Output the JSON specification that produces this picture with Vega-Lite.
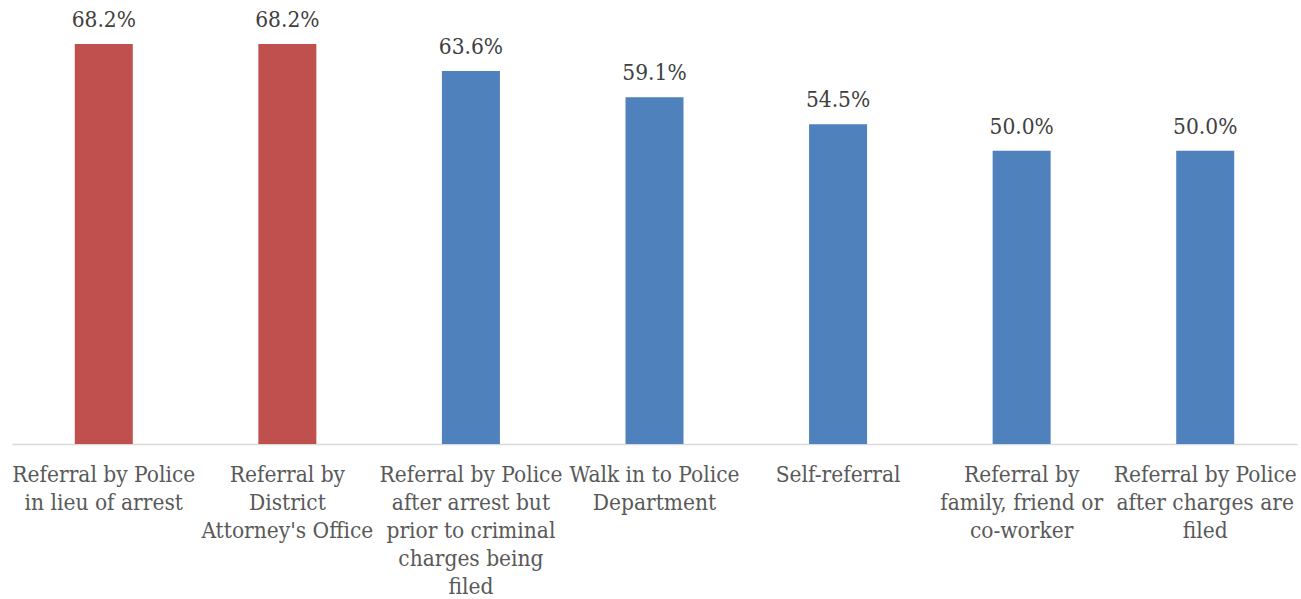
{
  "$schema": "https://vega.github.io/schema/vega-lite/v6.json",
  "autosize": "none",
  "width": 1285,
  "height": 444,
  "padding": {"left": 12, "top": 0, "right": 4, "bottom": 155},
  "background": "white",
  "config": {"view": {"stroke": null}},
  "data": {
    "values": [
      {"category": "Referral by Police in lieu of arrest", "value": 0.682, "group": "top"},
      {"category": "Referral by District Attorney's Office", "value": 0.682, "group": "top"},
      {"category": "Referral by Police after arrest but prior to criminal charges being filed", "value": 0.636, "group": "other"},
      {"category": "Walk in to Police Department", "value": 0.591, "group": "other"},
      {"category": "Self-referral", "value": 0.545, "group": "other"},
      {"category": "Referral by family, friend or co-worker", "value": 0.5, "group": "other"},
      {"category": "Referral by Police after charges are filed", "value": 0.5, "group": "other"}
    ]
  },
  "encoding": {
    "x": {
      "field": "category",
      "type": "nominal",
      "sort": null,
      "scale": {"paddingInner": 0.684, "paddingOuter": 0.342},
      "axis": {
        "title": null,
        "labelAngle": 0,
        "ticks": false,
        "domainColor": "#D9D9D9",
        "domainWidth": 1.5,
        "labelFont": "DejaVu Serif Condensed",
        "labelFontSize": 22.5,
        "labelColor": "#595959",
        "labelPadding": 19,
        "labelLineHeight": 28,
        "labelLimit": 400,
        "labelBaseline": "top",
        "labelExpr": "({'Referral by Police in lieu of arrest': ['Referral by Police', 'in lieu of arrest'], 'Referral by District Attorney\\'s Office': ['Referral by', 'District', 'Attorney\\'s Office'], 'Referral by Police after arrest but prior to criminal charges being filed': ['Referral by Police', 'after arrest but', 'prior to criminal', 'charges being', 'filed'], 'Walk in to Police Department': ['Walk in to Police', 'Department'], 'Self-referral': ['Self-referral'], 'Referral by family, friend or co-worker': ['Referral by', 'family, friend or', 'co-worker'], 'Referral by Police after charges are filed': ['Referral by Police', 'after charges are', 'filed']})[datum.label]"
      }
    },
    "y": {
      "field": "value",
      "type": "quantitative",
      "scale": {"domain": [0, 0.757], "nice": false},
      "axis": null
    }
  },
  "layer": [
    {
      "mark": {"type": "bar"},
      "encoding": {
        "color": {
          "field": "group",
          "type": "nominal",
          "scale": {"domain": ["top", "other"], "range": ["#C0504D", "#4F81BD"]},
          "legend": null
        }
      }
    },
    {
      "mark": {"type": "text", "baseline": "alphabetic", "dy": -17, "font": "DejaVu Serif Condensed", "fontSize": 22.5, "color": "#404040"},
      "encoding": {
        "text": {"field": "value", "type": "quantitative", "format": ".1%"}
      }
    }
  ]
}
